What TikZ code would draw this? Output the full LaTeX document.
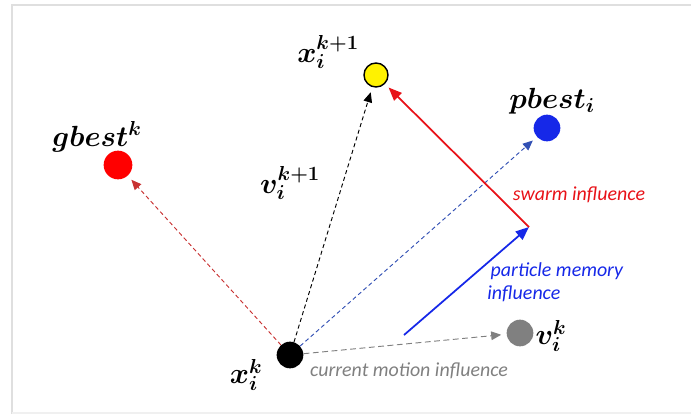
\documentclass[tikz,border=0pt]{standalone}
\usepackage{fontspec}
\usepackage{bm}
\usetikzlibrary{arrows.meta}
\newfontfamily\notefont{Carlito}
\definecolor{swarmred}{RGB}{232,18,24}
\definecolor{memblue}{RGB}{22,40,232}
\definecolor{dashred}{RGB}{200,50,50}
\definecolor{dashblue}{RGB}{50,80,180}
\definecolor{motiongray}{RGB}{128,128,128}
\begin{document}
\begin{tikzpicture}[x=0.03cm, y=-0.03cm,
  pnt/.style={circle,inner sep=0pt,minimum size=0.8cm},
  sym/.style={font=\fontsize{23.5}{27}\selectfont,inner sep=0pt},
  note/.style={font=\notefont\itshape\fontsize{17}{20}\selectfont,align=left,inner sep=1pt},
  dsh/.style={dash pattern=on 3.5pt off 2.5pt,line width=0.8pt,-{Triangle[length=0.3cm,width=0.26cm]},shorten >=0.16cm},
  sld/.style={line width=1.5pt,-{Triangle[length=0.4cm,width=0.32cm]}}]
\useasboundingbox (0,0) rectangle (691,414);
\draw[gray!25,line width=1pt] (691,5) -- (12,5) -- (12,414);
\draw[gray!12,line width=1pt] (12,413) -- (691,413);
% points
\node[pnt,fill=black] (xk) at (290,355) {};
\node[pnt,fill=yellow,draw=black,line width=1.2pt,minimum size=0.72cm] (xnew) at (376,75) {};
\node[pnt,fill=red,minimum size=0.86cm] (gb) at (118,165) {};
\node[pnt,fill=memblue] (pb) at (547,128) {};
\node[pnt,fill=motiongray] (vk) at (520,333) {};
% labels
\node[sym] (lxnew) at (328,52) {$\bm{x_i^{k+1}}$};
\node[sym] (lgb) at (97,137) {$\bm{gbest^k}$};
\node[sym] (lpb) at (552,101) {$\bm{pbest_i}$};
\node[sym] (lvnew) at (290,183) {$\bm{v_i^{k+1}}$};
\node[sym] (lvk) at (551,336) {$\bm{v_i^k}$};
\node[sym] (lxk) at (246,375) {$\bm{x_i^k}$};
% dashed moves
\draw[dsh,dashred] (xk) -- (gb);
\draw[dsh,black] (xk) -- (xnew);
\draw[dsh,dashblue] (xk) -- (pb);
\draw[dsh,motiongray,dash pattern=on 5pt off 3pt] (xk) -- (vk);
% influences
\coordinate (pm0) at (404,335);
\coordinate (pm1) at (529,227);
\draw[sld,memblue] (pm0) -- (pm1);
\draw[sld,swarmred,shorten >=0.15cm] (pm1) -- (xnew);
\node[note,text=swarmred] (tsw) at (579,195) {swarm influence};
\node[note,text=memblue,anchor=west] (tpm) at (486,282) {\,particle memory\\influence};
\node[note,text=motiongray] (tcm) at (409,371) {current motion influence};
\end{tikzpicture}
\end{document}
